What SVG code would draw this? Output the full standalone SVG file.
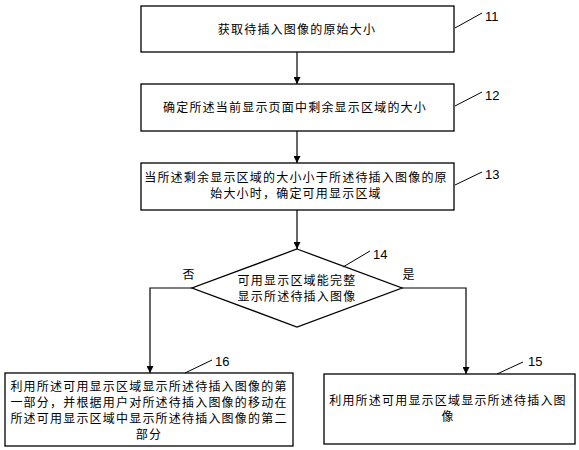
<svg xmlns="http://www.w3.org/2000/svg" width="579" height="450" viewBox="0 0 579 450">
<style>
.box{fill:#fff;stroke:#000;stroke-width:1.3}
.ln{fill:none;stroke:#000;stroke-width:1.2}
.ld{fill:none;stroke:#000;stroke-width:1}
.t{font-family:"Noto Sans CJK SC","Noto Sans CJK JP",sans-serif;font-size:12px;letter-spacing:1.2px;text-anchor:middle;fill:#000}
.n{font-family:"Liberation Sans",Arial,sans-serif;font-size:13px;fill:#000}
</style>
<defs>
<marker id="ar" viewBox="0 0 8 8" refX="8" refY="4" markerWidth="7" markerHeight="7" markerUnits="userSpaceOnUse" orient="auto">
<path d="M0,0 L8,4 L0,8 Z" fill="#000"/>
</marker>
</defs>
<rect width="579" height="450" fill="#fff"/>
<g id="connectors">
<line class="ln" x1="297" y1="52" x2="297" y2="84" marker-end="url(#ar)"/>
<line class="ln" x1="297" y1="131" x2="297" y2="163" marker-end="url(#ar)"/>
<line class="ln" x1="297" y1="210" x2="297" y2="249" marker-end="url(#ar)"/>
<polyline class="ln" points="192,288 150,288 150,373" marker-end="url(#ar)"/>
<polyline class="ln" points="402,288 466,288 466,374" marker-end="url(#ar)"/>
<text class="t" x="189" y="279">否</text>
<text class="t" x="409" y="279">是</text>
</g>
<g id="n11">
<rect class="box" x="141" y="6" width="313" height="46"/>
<text class="t" x="297" y="34">获取待插入图像的原始大小</text>
<line class="ld" x1="455" y1="28" x2="482" y2="13"/>
<text class="n" x="485" y="21">11</text>
</g>
<g id="n12">
<rect class="box" x="141" y="84" width="313" height="47"/>
<text class="t" x="295" y="112">确定所述当前显示页面中剩余显示区域的大小</text>
<line class="ld" x1="455" y1="106" x2="482" y2="92"/>
<text class="n" x="485" y="100">12</text>
</g>
<g id="n13">
<rect class="box" x="141" y="163" width="313" height="47"/>
<text class="t" x="296" y="182">当所述剩余显示区域的大小小于所述待插入图像的原</text>
<text class="t" x="296" y="198">始大小时，确定可用显示区域</text>
<line class="ld" x1="455" y1="185" x2="482" y2="172"/>
<text class="n" x="485" y="179">13</text>
</g>
<g id="n14">
<polygon class="box" points="297,249 402,288 297,327 192,288"/>
<text class="t" x="297" y="285">可用显示区域能完整</text>
<text class="t" x="297" y="301">显示所述待插入图像</text>
<line class="ld" x1="343" y1="267" x2="370" y2="251"/>
<text class="n" x="373" y="259">14</text>
</g>
<g id="n16">
<rect class="box" x="5" y="373" width="288" height="73"/>
<text class="t" x="149" y="391">利用所述可用显示区域显示所述待插入图像的第</text>
<text class="t" x="149" y="407">一部分，并根据用户对所述待插入图像的移动在</text>
<text class="t" x="149" y="423">所述可用显示区域中显示所述待插入图像的第二</text>
<text class="t" x="149" y="439">部分</text>
<line class="ld" x1="185" y1="373" x2="212" y2="360"/>
<text class="n" x="215" y="366">16</text>
</g>
<g id="n15">
<rect class="box" x="324" y="374" width="251" height="70"/>
<text class="t" x="448" y="405">利用所述可用显示区域显示所述待插入图</text>
<text class="t" x="448" y="421">像</text>
<line class="ld" x1="497" y1="374" x2="523" y2="362"/>
<text class="n" x="528" y="366">15</text>
</g>
</svg>
